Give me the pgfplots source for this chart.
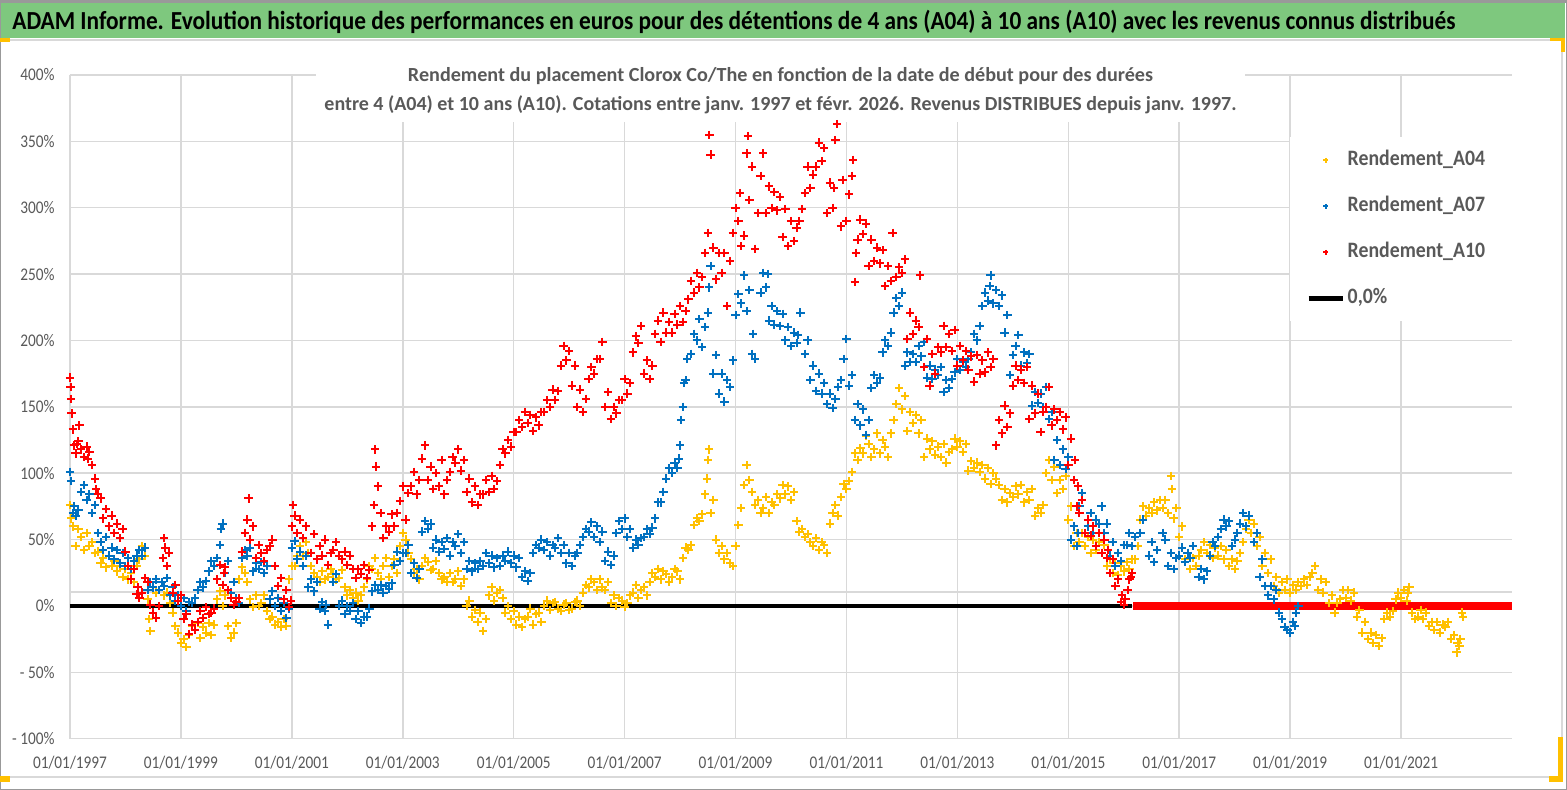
\documentclass[border=0pt]{standalone}
\usepackage{pgfplots}
\pgfplotsset{compat=1.18}
\usepackage{fontspec}
\setmainfont{Carlito}
\newfontfamily\cond{Carlito}[FakeStretch=0.86]
\newfontfamily\condl{Carlito}[FakeStretch=0.9]
\definecolor{cy}{RGB}{255,192,0}
\definecolor{cb}{RGB}{0,112,192}
\definecolor{cr}{RGB}{255,0,0}
\definecolor{tg}{RGB}{89,89,89}
\definecolor{gg}{RGB}{217,217,217}
\definecolor{bgreen}{RGB}{126,200,126}
\begin{document}
\begin{tikzpicture}
\path[use as bounding box] (0,0) rectangle (783.5pt,395pt);
\fill[white] (0,0) rectangle (783.5pt,395pt);
% banner
\fill[bgreen] (0.5pt,376pt) rectangle (782.5pt,393.5pt);
\draw[gray!80, line width=0.6pt] (0pt,394pt) -- (783.5pt,394pt);
\draw[gg, line width=0.6pt] (0pt,375pt) -- (781pt,375pt) -- (781pt,6.5pt) -- (0pt,6.5pt);
\draw[gray!80, line width=0.6pt] (0.3pt,0.3pt) rectangle (783.2pt,394.7pt);
% yellow corners
\fill[cy] (0pt,374pt) rectangle (5pt,376pt);
\fill[cy] (775pt,374.5pt) rectangle (782.5pt,376pt);
\fill[cy] (780.5pt,369pt) rectangle (782.5pt,376pt);
\fill[cy] (0pt,4pt) rectangle (5pt,7pt);
\fill[cy] (774.5pt,4pt) rectangle (781.5pt,7pt);
\fill[cy] (779pt,4pt) rectangle (781.5pt,26.5pt);
\begin{axis}[
  at={(35pt,25.65pt)}, anchor=south west,
  scale only axis, width=721pt, height=331.85pt,
  xmin=1997, xmax=2023, ymin=-100, ymax=400,
  xtick={1997,1999,2001,2003,2005,2007,2009,2011,2013,2015,2017,2019,2021},
  xticklabels={01/01/1997,01/01/1999,01/01/2001,01/01/2003,01/01/2005,01/01/2007,01/01/2009,01/01/2011,01/01/2013,01/01/2015,01/01/2017,01/01/2019,01/01/2021},
  ytick={-100,-50,0,50,100,150,200,250,300,350,400},
  yticklabels={- 100\%,- 50\%,0\%,50\%,100\%,150\%,200\%,250\%,300\%,350\%,400\%},
  extra y ticks={10.5}, extra y tick labels={},
  grid=major, major grid style={gg, line width=0.75pt},
  axis line style={draw=none},
  major tick length=0pt,
  /pgf/number format/assume math mode=true,
  tick label style={font=\cond\fontsize{8.9}{10}\selectfont, text=tg, inner sep=0pt},
  xticklabel style={anchor=base, yshift=-15pt},
  yticklabel style={anchor=east, xshift=-7.5pt},
  clip=false,
  legend image code/.code={\draw[mark repeat=2,mark phase=2,#1,mark options={scale=0.6}] plot coordinates {(0pt,0pt) (8.5pt,0pt) (17pt,0pt)};},
  legend cell align=left,
  legend style={at={(0.846,0.9066)}, anchor=north west, fill=white, draw=none,
    inner xsep=8pt, inner ysep=6.25pt, row sep=12.5pt, column sep=1.5pt,
    font=\condl\bfseries\fontsize{11}{12}\selectfont, text=tg,
    nodes={inner sep=0pt, text height=8pt, text depth=2.5pt, text width=77pt}},
]
\fill[white] (axis cs:2001.436,364.5) rectangle (axis cs:2018.19,412);
\addplot[only marks, mark=+, mark size=2.1pt, line width=1pt, color=cy] coordinates {
(1997.0,76)(1997.02,66)(1997.05,60)(1997.1,45)(1997.15,58)(1997.2,52)(1997.25,42)(1997.3,55)(1997.35,45)(1997.4,48)(1997.45,40)(1997.5,41)(1997.55,32)(1997.6,36)(1997.65,29)(1997.7,38)(1997.75,30)(1997.8,34)(1997.85,26)(1997.9,30)(1997.95,22)(1998.0,28)(1998.05,20)(1998.1,25)(1998.15,18)(1998.2,30)(1998.25,35)(1998.3,45)(1998.35,38)(1998.4,5)(1998.42,-10)(1998.45,-19)(1998.55,10)(1998.6,0)(1998.65,18)(1998.7,8)(1998.75,10)(1998.8,2)(1998.85,-5)(1998.9,-15)(1998.95,-20)(1999.0,-28)(1999.05,-25)(1999.1,-31)(1999.15,-22)(1999.2,-15)(1999.25,-18)(1999.3,-13)(1999.35,-24)(1999.4,-16)(1999.45,-20)(1999.5,-13)(1999.55,-22)(1999.6,-14)(1999.65,5)(1999.7,11)(1999.75,0)(1999.8,8)(1999.85,-15)(1999.9,-24)(1999.95,-20)(2000.0,-13)(2000.05,20)(2000.1,29)(2000.15,25)(2000.2,18)(2000.25,5)(2000.3,-1)(2000.35,8)(2000.4,0)(2000.45,2)(2000.5,8)(2000.55,-4)(2000.6,-10)(2000.65,-8)(2000.7,-14)(2000.75,-12)(2000.8,-16)(2000.85,-10)(2000.9,-15)(2000.95,20)(2001.0,30)(2001.05,30)(2001.1,38)(2001.15,45)(2001.2,38)(2001.25,48)(2001.3,40)(2001.35,30)(2001.4,25)(2001.45,22)(2001.5,18)(2001.55,26)(2001.6,20)(2001.65,22)(2001.7,28)(2001.75,24)(2001.8,20)(2001.85,21)(2001.9,27)(2001.95,14)(2002.0,8)(2002.05,12)(2002.1,6)(2002.15,10)(2002.2,4)(2002.25,8)(2002.3,14)(2002.35,20)(2002.4,30)(2002.45,28)(2002.5,36)(2002.55,25)(2002.6,20)(2002.65,30)(2002.7,36)(2002.75,22)(2002.8,30)(2002.85,35)(2002.9,25)(2002.95,45)(2003.0,55)(2003.05,50)(2003.1,40)(2003.15,35)(2003.2,25)(2003.25,28)(2003.3,20)(2003.35,30)(2003.4,36)(2003.45,33)(2003.5,27)(2003.55,28)(2003.6,34)(2003.65,25)(2003.7,20)(2003.75,22)(2003.8,18)(2003.85,25)(2003.9,18)(2003.95,20)(2004.0,26)(2004.05,15)(2004.1,20)(2004.15,0)(2004.2,4)(2004.25,-8)(2004.3,-3)(2004.35,-12)(2004.4,-5)(2004.45,-19)(2004.5,-10)(2004.55,8)(2004.6,14)(2004.65,4)(2004.7,10)(2004.75,12)(2004.8,6)(2004.85,-5)(2004.9,0)(2004.95,-10)(2005.0,-4)(2005.05,-14)(2005.1,-8)(2005.15,-16)(2005.2,-10)(2005.25,-8)(2005.3,-2)(2005.35,-14)(2005.4,-6)(2005.45,-5)(2005.5,-12)(2005.55,0)(2005.6,4)(2005.65,-3)(2005.7,2)(2005.75,3)(2005.8,-2)(2005.85,-4)(2005.9,1)(2005.95,2)(2006.0,-3)(2006.05,-2)(2006.1,3)(2006.15,4)(2006.2,0)(2006.25,10)(2006.3,16)(2006.35,14)(2006.4,20)(2006.45,18)(2006.5,12)(2006.55,20)(2006.6,14)(2006.65,12)(2006.7,18)(2006.75,2)(2006.8,8)(2006.85,0)(2006.9,6)(2006.95,4)(2007.0,-1)(2007.05,2)(2007.1,8)(2007.15,10)(2007.2,16)(2007.25,6)(2007.3,12)(2007.35,14)(2007.4,8)(2007.45,18)(2007.5,25)(2007.55,22)(2007.6,28)(2007.65,20)(2007.7,26)(2007.75,24)(2007.8,18)(2007.85,22)(2007.9,28)(2007.95,26)(2008.0,20)(2008.05,36)(2008.1,44)(2008.15,42)(2008.2,46)(2008.25,61)(2008.3,66)(2008.35,64)(2008.4,69)(2008.45,84)(2008.48,96)(2008.5,110)(2008.52,118)(2008.55,70)(2008.6,80)(2008.65,50)(2008.7,40)(2008.75,45)(2008.8,35)(2008.85,40)(2008.9,32)(2008.95,30)(2009.0,45)(2009.05,61)(2009.1,74)(2009.15,91)(2009.2,106)(2009.25,95)(2009.3,86)(2009.35,76)(2009.4,80)(2009.45,70)(2009.5,74)(2009.55,82)(2009.6,70)(2009.65,78)(2009.7,76)(2009.75,84)(2009.8,81)(2009.85,91)(2009.9,84)(2009.95,90)(2010.0,80)(2010.05,86)(2010.1,64)(2010.15,56)(2010.2,58)(2010.25,52)(2010.3,54)(2010.35,48)(2010.4,45)(2010.45,51)(2010.5,42)(2010.55,48)(2010.6,46)(2010.65,40)(2010.7,62)(2010.75,70)(2010.8,76)(2010.85,68)(2010.9,82)(2010.95,92)(2011.0,88)(2011.05,94)(2011.1,101)(2011.15,115)(2011.2,110)(2011.25,119)(2011.3,115)(2011.35,128)(2011.4,122)(2011.45,112)(2011.5,118)(2011.55,130)(2011.6,115)(2011.65,125)(2011.7,120)(2011.75,112)(2011.8,130)(2011.85,140)(2011.9,152)(2011.95,164)(2012.0,148)(2012.05,158)(2012.1,132)(2012.15,146)(2012.2,138)(2012.25,144)(2012.3,130)(2012.35,140)(2012.4,112)(2012.45,126)(2012.5,118)(2012.55,124)(2012.6,114)(2012.65,120)(2012.7,112)(2012.75,122)(2012.8,108)(2012.85,116)(2012.9,118)(2012.95,126)(2013.0,120)(2013.05,124)(2013.1,116)(2013.15,122)(2013.2,102)(2013.25,109)(2013.3,104)(2013.35,108)(2013.4,101)(2013.45,106)(2013.5,96)(2013.55,104)(2013.6,92)(2013.65,100)(2013.7,96)(2013.75,91)(2013.8,80)(2013.85,88)(2013.9,78)(2013.95,85)(2014.0,82)(2014.05,90)(2014.1,84)(2014.15,91)(2014.2,78)(2014.25,86)(2014.3,80)(2014.35,88)(2014.4,68)(2014.45,74)(2014.5,70)(2014.55,76)(2014.6,100)(2014.65,110)(2014.7,95)(2014.75,105)(2014.8,85)(2014.85,95)(2014.9,88)(2014.95,98)(2015.0,65)(2015.05,75)(2015.1,45)(2015.15,55)(2015.2,48)(2015.25,55)(2015.3,45)(2015.35,52)(2015.4,40)(2015.45,50)(2015.5,42)(2015.55,48)(2015.6,40)(2015.65,46)(2015.7,30)(2015.75,35)(2015.8,25)(2015.85,32)(2015.9,23)(2015.95,30)(2016.0,26)(2016.05,33)(2016.1,28)(2016.15,35)(2016.2,35)(2016.25,45)(2016.3,65)(2016.35,75)(2016.4,68)(2016.45,74)(2016.5,70)(2016.55,78)(2016.6,72)(2016.65,80)(2016.7,74)(2016.75,80)(2016.8,70)(2016.85,98)(2016.87,88)(2016.9,66)(2016.95,74)(2017.0,52)(2017.05,60)(2017.1,35)(2017.15,40)(2017.2,28)(2017.25,36)(2017.3,30)(2017.35,38)(2017.4,42)(2017.45,48)(2017.5,40)(2017.55,46)(2017.6,36)(2017.65,44)(2017.7,38)(2017.75,45)(2017.8,35)(2017.85,42)(2017.9,30)(2017.95,35)(2018.0,28)(2018.05,34)(2018.1,40)(2018.15,48)(2018.2,58)(2018.25,65)(2018.3,55)(2018.35,62)(2018.4,45)(2018.45,52)(2018.5,30)(2018.55,40)(2018.6,25)(2018.65,35)(2018.7,15)(2018.75,22)(2018.8,10)(2018.85,18)(2018.9,12)(2018.95,20)(2019.0,10)(2019.05,16)(2019.1,12)(2019.15,18)(2019.2,15)(2019.25,20)(2019.3,16)(2019.35,22)(2019.4,25)(2019.45,30)(2019.5,12)(2019.55,20)(2019.6,10)(2019.65,18)(2019.7,2)(2019.75,8)(2019.8,-5)(2019.85,2)(2019.9,5)(2019.95,12)(2020.0,6)(2020.05,12)(2020.1,4)(2020.15,10)(2020.2,-8)(2020.25,-3)(2020.3,-20)(2020.35,-12)(2020.4,-25)(2020.45,-20)(2020.5,-28)(2020.55,-22)(2020.6,-30)(2020.65,-24)(2020.7,-10)(2020.75,-5)(2020.8,-8)(2020.85,-4)(2020.9,5)(2020.95,10)(2021.0,6)(2021.05,12)(2021.1,4)(2021.12,10)(2021.15,14)(2021.2,-5)(2021.25,-10)(2021.3,-8)(2021.35,-3)(2021.4,-10)(2021.45,-5)(2021.5,-15)(2021.55,-12)(2021.6,-18)(2021.65,-12)(2021.7,-20)(2021.75,-14)(2021.8,-16)(2021.85,-12)(2021.9,-25)(2021.95,-22)(2022.0,-35)(2022.02,-28)(2022.05,-30)(2022.07,-25)(2022.1,-5)(2022.12,-8)
};
\addlegendentry{Rendement\_A04}
\addplot[only marks, mark=+, mark size=2.1pt, line width=1pt, color=cb] coordinates {
(1997.0,101)(1997.02,94)(1997.05,70)(1997.08,75)(1997.1,68)(1997.15,72)(1997.2,86)(1997.25,91)(1997.3,80)(1997.35,84)(1997.4,70)(1997.45,76)(1997.5,55)(1997.55,48)(1997.6,42)(1997.65,52)(1997.7,38)(1997.75,44)(1997.8,35)(1997.85,42)(1997.9,32)(1997.95,40)(1998.0,30)(1998.05,36)(1998.1,28)(1998.15,34)(1998.2,38)(1998.25,42)(1998.3,38)(1998.35,44)(1998.4,12)(1998.45,18)(1998.5,14)(1998.55,20)(1998.6,12)(1998.65,18)(1998.7,15)(1998.75,21)(1998.8,8)(1998.85,14)(1998.9,4)(1998.95,8)(1999.0,0)(1999.05,6)(1999.1,-4)(1999.15,3)(1999.2,2)(1999.25,6)(1999.3,12)(1999.35,18)(1999.4,14)(1999.45,19)(1999.5,26)(1999.55,34)(1999.6,30)(1999.65,36)(1999.7,46)(1999.72,58)(1999.75,62)(1999.8,25)(1999.85,34)(1999.9,10)(1999.95,18)(2000.0,6)(2000.05,2)(2000.1,36)(2000.15,42)(2000.2,38)(2000.25,44)(2000.3,26)(2000.35,32)(2000.4,28)(2000.45,33)(2000.5,25)(2000.55,30)(2000.6,5)(2000.65,11)(2000.7,0)(2000.75,6)(2000.8,-4)(2000.85,2)(2000.9,-9)(2000.95,-2)(2001.0,44)(2001.05,49)(2001.1,35)(2001.15,41)(2001.2,30)(2001.25,38)(2001.3,14)(2001.35,20)(2001.4,11)(2001.45,18)(2001.5,-2)(2001.55,3)(2001.6,-4)(2001.62,1)(2001.65,-14)(2001.75,18)(2001.8,24)(2001.85,0)(2001.9,4)(2001.95,-6)(2002.0,0)(2002.05,-4)(2002.1,2)(2002.15,-10)(2002.2,-4)(2002.25,-13)(2002.3,-8)(2002.35,-8)(2002.4,-2)(2002.45,11)(2002.5,16)(2002.55,12)(2002.6,16)(2002.65,10)(2002.7,15)(2002.75,13)(2002.8,17)(2002.85,31)(2002.9,41)(2002.95,34)(2003.0,40)(2003.05,40)(2003.1,46)(2003.15,25)(2003.2,32)(2003.25,21)(2003.3,28)(2003.35,56)(2003.4,64)(2003.45,58)(2003.5,62)(2003.55,44)(2003.6,50)(2003.65,41)(2003.7,48)(2003.75,43)(2003.8,51)(2003.85,38)(2003.9,48)(2003.95,45)(2004.0,54)(2004.05,40)(2004.1,48)(2004.15,28)(2004.2,34)(2004.25,26)(2004.3,32)(2004.35,28)(2004.4,34)(2004.45,30)(2004.5,40)(2004.55,32)(2004.6,38)(2004.65,29)(2004.7,36)(2004.75,30)(2004.8,38)(2004.85,34)(2004.9,41)(2004.95,32)(2005.0,38)(2005.05,29)(2005.1,36)(2005.15,22)(2005.2,26)(2005.25,19)(2005.3,25)(2005.35,40)(2005.4,46)(2005.45,44)(2005.5,50)(2005.55,42)(2005.6,48)(2005.65,38)(2005.7,46)(2005.75,44)(2005.8,51)(2005.85,40)(2005.9,46)(2005.95,32)(2006.0,40)(2006.05,30)(2006.1,38)(2006.15,40)(2006.2,46)(2006.25,52)(2006.3,58)(2006.35,56)(2006.4,63)(2006.45,52)(2006.5,60)(2006.55,48)(2006.6,56)(2006.65,34)(2006.7,41)(2006.75,31)(2006.8,38)(2006.85,55)(2006.9,64)(2006.95,58)(2007.0,66)(2007.05,52)(2007.1,58)(2007.15,44)(2007.2,50)(2007.25,46)(2007.3,51)(2007.35,52)(2007.4,58)(2007.45,54)(2007.5,59)(2007.55,66)(2007.6,78)(2007.65,78)(2007.7,86)(2007.75,96)(2007.8,104)(2007.85,100)(2007.9,108)(2007.95,104)(2007.98,111)(2008.0,121)(2008.02,140)(2008.05,150)(2008.07,168)(2008.1,170)(2008.13,186)(2008.2,190)(2008.25,205)(2008.3,200)(2008.35,216)(2008.4,195)(2008.45,210)(2008.5,221)(2008.52,240)(2008.55,256)(2008.6,175)(2008.65,189)(2008.7,160)(2008.75,175)(2008.8,154)(2008.85,170)(2008.9,165)(2008.95,185)(2009.0,219)(2009.05,235)(2009.1,228)(2009.15,249)(2009.2,222)(2009.25,238)(2009.3,190)(2009.32,205)(2009.35,186)(2009.45,236)(2009.5,251)(2009.55,240)(2009.58,250)(2009.6,215)(2009.65,226)(2009.7,212)(2009.75,222)(2009.8,211)(2009.85,220)(2009.9,200)(2009.95,210)(2010.0,196)(2010.05,206)(2010.1,198)(2010.13,204)(2010.17,221)(2010.25,190)(2010.3,200)(2010.35,170)(2010.4,181)(2010.45,162)(2010.5,175)(2010.55,160)(2010.6,168)(2010.65,152)(2010.7,160)(2010.75,149)(2010.8,156)(2010.85,165)(2010.9,170)(2010.95,186)(2011.0,201)(2011.05,166)(2011.1,174)(2011.15,140)(2011.2,152)(2011.25,136)(2011.3,148)(2011.35,129)(2011.4,140)(2011.45,164)(2011.5,174)(2011.55,168)(2011.6,172)(2011.65,191)(2011.7,200)(2011.75,196)(2011.8,206)(2011.85,221)(2011.9,232)(2011.95,226)(2012.0,236)(2012.05,181)(2012.1,191)(2012.15,184)(2012.2,190)(2012.25,184)(2012.3,196)(2012.35,188)(2012.4,199)(2012.45,172)(2012.5,181)(2012.55,171)(2012.6,178)(2012.65,174)(2012.7,180)(2012.75,161)(2012.8,170)(2012.85,164)(2012.9,171)(2012.95,176)(2013.0,186)(2013.05,178)(2013.1,184)(2013.15,180)(2013.2,186)(2013.25,191)(2013.3,205)(2013.35,200)(2013.4,211)(2013.45,226)(2013.5,236)(2013.55,230)(2013.58,241)(2013.6,249)(2013.65,228)(2013.7,238)(2013.75,226)(2013.8,234)(2013.85,206)(2013.9,219)(2013.95,174)(2014.0,189)(2014.05,196)(2014.1,204)(2014.15,181)(2014.2,191)(2014.25,183)(2014.3,190)(2014.35,151)(2014.4,161)(2014.45,153)(2014.5,160)(2014.55,150)(2014.6,165)(2014.65,141)(2014.7,146)(2014.75,110)(2014.8,125)(2014.85,106)(2014.9,118)(2014.95,103)(2015.0,112)(2015.05,50)(2015.1,60)(2015.15,45)(2015.18,55)(2015.2,75)(2015.25,85)(2015.35,60)(2015.4,70)(2015.45,55)(2015.5,65)(2015.55,62)(2015.6,75)(2015.65,55)(2015.7,62)(2015.75,38)(2015.8,48)(2015.85,30)(2015.9,40)(2015.95,34)(2016.0,46)(2016.05,46)(2016.1,55)(2016.15,45)(2016.2,52)(2016.3,55)(2016.35,65)(2016.45,38)(2016.5,48)(2016.55,33)(2016.6,42)(2016.7,55)(2016.75,50)(2016.8,30)(2016.85,40)(2016.9,28)(2016.95,36)(2017.0,38)(2017.05,44)(2017.1,33)(2017.15,40)(2017.2,36)(2017.25,45)(2017.35,22)(2017.4,28)(2017.45,20)(2017.5,26)(2017.55,38)(2017.6,48)(2017.65,45)(2017.7,52)(2017.75,58)(2017.8,65)(2017.85,60)(2017.9,64)(2017.95,45)(2018.0,50)(2018.05,55)(2018.1,62)(2018.15,70)(2018.2,60)(2018.25,68)(2018.35,48)(2018.4,55)(2018.45,22)(2018.5,35)(2018.55,15)(2018.6,8)(2018.65,15)(2018.7,5)(2018.75,12)(2018.8,-5)(2018.85,-10)(2018.9,-16)(2018.95,-18)(2019.0,-20)(2019.05,-12)(2019.08,-15)(2019.1,-5)(2019.15,0)
};
\addlegendentry{Rendement\_A07}
\addplot[only marks, mark=+, mark size=2.1pt, line width=1pt, color=cr] coordinates {
(1997.0,172)(1997.01,165)(1997.02,156)(1997.03,145)(1997.05,133)(1997.07,121)(1997.1,115)(1997.12,122)(1997.15,124)(1997.17,136)(1997.2,118)(1997.25,112)(1997.3,120)(1997.32,111)(1997.35,116)(1997.4,106)(1997.45,96)(1997.47,88)(1997.5,84)(1997.55,81)(1997.6,66)(1997.65,73)(1997.7,60)(1997.75,68)(1997.8,55)(1997.85,62)(1997.9,51)(1997.95,58)(1998.0,41)(1998.05,30)(1998.1,20)(1998.15,28)(1998.2,9)(1998.22,14)(1998.25,6)(1998.3,10)(1998.35,21)(1998.4,18)(1998.45,1)(1998.5,-5)(1998.55,-9)(1998.6,0)(1998.68,36)(1998.7,51)(1998.72,44)(1998.75,30)(1998.78,40)(1998.85,10)(1998.9,16)(1998.95,4)(1999.0,8)(1999.05,-10)(1999.1,-6)(1999.15,-21)(1999.2,-14)(1999.25,-18)(1999.3,-12)(1999.35,-4)(1999.4,-9)(1999.45,-1)(1999.5,-6)(1999.55,-5)(1999.6,-2)(1999.65,20)(1999.7,31)(1999.75,16)(1999.78,25)(1999.8,29)(1999.85,12)(1999.9,6)(1999.95,1)(2000.0,3)(2000.05,6)(2000.1,41)(2000.15,55)(2000.2,65)(2000.22,81)(2000.25,50)(2000.3,60)(2000.35,36)(2000.4,46)(2000.45,40)(2000.5,34)(2000.55,42)(2000.6,45)(2000.65,50)(2000.7,30)(2000.75,15)(2000.8,21)(2000.85,5)(2000.9,12)(2000.95,-1)(2000.98,4)(2001.0,60)(2001.02,76)(2001.05,68)(2001.1,55)(2001.15,65)(2001.2,51)(2001.25,60)(2001.35,40)(2001.4,54)(2001.45,35)(2001.5,45)(2001.55,38)(2001.6,50)(2001.65,31)(2001.7,40)(2001.75,42)(2001.8,48)(2001.85,38)(2001.9,35)(2001.95,41)(2002.0,31)(2002.05,38)(2002.1,28)(2002.15,21)(2002.2,28)(2002.25,24)(2002.3,31)(2002.35,21)(2002.4,27)(2002.45,60)(2002.48,76)(2002.5,118)(2002.52,105)(2002.55,90)(2002.6,70)(2002.65,51)(2002.7,60)(2002.75,56)(2002.8,69)(2002.85,60)(2002.9,70)(2002.95,79)(2003.0,90)(2003.05,65)(2003.1,85)(2003.15,90)(2003.2,101)(2003.25,84)(2003.3,95)(2003.35,111)(2003.4,121)(2003.45,95)(2003.5,105)(2003.55,88)(2003.6,100)(2003.65,90)(2003.7,110)(2003.75,84)(2003.8,95)(2003.85,101)(2003.9,112)(2003.95,108)(2004.0,118)(2004.05,102)(2004.1,110)(2004.15,86)(2004.2,96)(2004.25,78)(2004.3,90)(2004.35,76)(2004.4,84)(2004.45,84)(2004.5,95)(2004.55,86)(2004.6,98)(2004.65,88)(2004.7,94)(2004.75,106)(2004.8,118)(2004.85,115)(2004.9,125)(2004.95,120)(2005.0,131)(2005.05,131)(2005.1,140)(2005.15,135)(2005.2,146)(2005.25,138)(2005.3,144)(2005.35,132)(2005.4,142)(2005.45,136)(2005.5,146)(2005.55,146)(2005.6,155)(2005.65,150)(2005.7,163)(2005.75,155)(2005.8,162)(2005.85,181)(2005.9,196)(2005.95,185)(2006.0,192)(2006.05,166)(2006.1,181)(2006.15,150)(2006.2,163)(2006.25,146)(2006.3,156)(2006.35,171)(2006.4,180)(2006.45,175)(2006.5,186)(2006.55,186)(2006.6,199)(2006.65,150)(2006.7,161)(2006.75,141)(2006.8,150)(2006.85,145)(2006.9,155)(2006.95,155)(2007.0,171)(2007.05,160)(2007.1,168)(2007.15,191)(2007.2,203)(2007.25,198)(2007.3,211)(2007.35,175)(2007.4,185)(2007.45,171)(2007.5,181)(2007.55,205)(2007.6,215)(2007.65,199)(2007.7,221)(2007.75,206)(2007.8,214)(2007.85,206)(2007.9,220)(2007.95,212)(2008.0,226)(2008.05,214)(2008.1,222)(2008.15,231)(2008.2,245)(2008.25,236)(2008.3,251)(2008.35,240)(2008.4,248)(2008.45,266)(2008.5,281)(2008.53,355)(2008.55,340)(2008.6,270)(2008.65,246)(2008.7,266)(2008.75,251)(2008.8,266)(2008.85,226)(2008.9,260)(2008.95,281)(2009.0,300)(2009.05,290)(2009.08,311)(2009.1,271)(2009.15,279)(2009.2,341)(2009.22,354)(2009.25,306)(2009.3,331)(2009.35,269)(2009.4,296)(2009.45,324)(2009.5,341)(2009.55,296)(2009.6,316)(2009.65,300)(2009.7,312)(2009.75,298)(2009.8,308)(2009.85,278)(2009.9,299)(2009.95,271)(2010.0,290)(2010.05,275)(2010.1,285)(2010.15,290)(2010.2,299)(2010.25,311)(2010.3,331)(2010.35,315)(2010.4,325)(2010.45,331)(2010.5,349)(2010.55,335)(2010.6,345)(2010.65,296)(2010.7,319)(2010.75,300)(2010.78,315)(2010.8,351)(2010.83,363)(2010.9,286)(2010.93,321)(2011.0,290)(2011.05,310)(2011.1,324)(2011.12,336)(2011.15,244)(2011.17,266)(2011.2,276)(2011.25,291)(2011.3,280)(2011.35,288)(2011.4,256)(2011.45,276)(2011.5,260)(2011.55,270)(2011.6,258)(2011.65,268)(2011.7,241)(2011.75,256)(2011.8,245)(2011.83,281)(2011.9,248)(2011.95,255)(2012.0,251)(2012.05,261)(2012.1,201)(2012.15,221)(2012.2,205)(2012.25,215)(2012.3,210)(2012.33,249)(2012.4,180)(2012.45,201)(2012.5,166)(2012.55,190)(2012.6,175)(2012.65,195)(2012.7,191)(2012.75,211)(2012.8,195)(2012.85,205)(2012.9,192)(2012.95,208)(2013.0,181)(2013.05,196)(2013.1,185)(2013.15,192)(2013.2,178)(2013.25,188)(2013.3,169)(2013.35,189)(2013.4,175)(2013.45,185)(2013.5,176)(2013.55,191)(2013.6,180)(2013.65,186)(2013.7,121)(2013.75,140)(2013.8,130)(2013.85,151)(2013.9,135)(2013.95,145)(2014.0,166)(2014.05,181)(2014.1,170)(2014.15,178)(2014.2,168)(2014.25,180)(2014.3,141)(2014.35,166)(2014.4,145)(2014.45,160)(2014.5,131)(2014.55,146)(2014.6,150)(2014.65,165)(2014.7,136)(2014.75,148)(2014.8,140)(2014.85,146)(2014.9,133)(2014.95,142)(2015.0,106)(2015.05,126)(2015.1,95)(2015.12,110)(2015.15,75)(2015.17,90)(2015.2,70)(2015.25,80)(2015.3,55)(2015.35,65)(2015.4,53)(2015.45,60)(2015.5,45)(2015.55,55)(2015.6,40)(2015.65,50)(2015.7,36)(2015.72,42)(2015.75,25)(2015.8,35)(2015.85,15)(2015.9,20)(2015.95,3)(2015.97,8)(2016.0,1)(2016.03,5)(2016.07,12)(2016.1,20)(2016.13,22)(2016.15,25)
};
\addlegendentry{Rendement\_A10}
\addplot[black, line width=2.2pt] coordinates {(1997,0) (2016.15,0)};
\addlegendentry{0,0\%}
\addplot[cr, line width=4pt, forget plot] coordinates {(2016.17,0) (2023,0)};
\end{axis}
\node[anchor=base west, inner sep=0pt] at (6pt,380pt) {\resizebox{721.5pt}{\height}{\fontsize{13}{15}\selectfont\bfseries ADAM Informe. Evolution historique des performances en euros pour des détentions de 4 ans (A04) à 10 ans (A10) avec les revenus connus distribués}};
\node[anchor=base, inner sep=0pt, text=tg] at (390.25pt,354pt) {\resizebox{372.5pt}{\height}{\fontsize{10}{12}\selectfont\bfseries Rendement du placement Clorox Co/The en fonction de la date de début pour des durées}};
\node[anchor=base, inner sep=0pt, text=tg] at (390.25pt,339.5pt) {\resizebox{456pt}{\height}{\fontsize{10}{12}\selectfont\bfseries entre 4 (A04) et 10 ans (A10). Cotations entre janv. 1997 et févr. 2026. Revenus DISTRIBUES depuis janv. 1997.}};
\end{tikzpicture}
\end{document}
